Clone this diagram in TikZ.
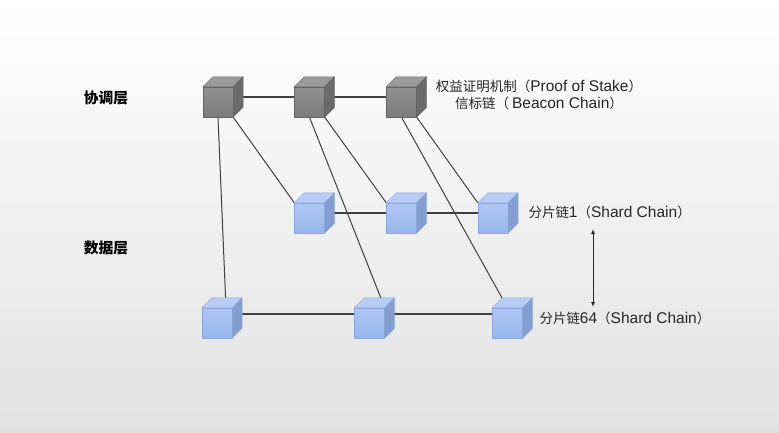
\documentclass[tikz,border=0pt]{standalone}
\usepackage{fontspec}
\setmainfont{Liberation Sans}
\newfontfamily\cjk[Scale=0.87]{Noto Sans CJK SC}
\usetikzlibrary{backgrounds,arrows.meta}

\definecolor{bgbottom}{RGB}{226,226,226}
\definecolor{linegray}{RGB}{64,64,64}
\definecolor{gfront}{RGB}{124,124,124}
\definecolor{gtop}{RGB}{154,154,154}
\definecolor{gside}{RGB}{106,106,106}
\definecolor{gedge}{RGB}{100,100,100}
\definecolor{bfront}{RGB}{152,182,238}
\definecolor{btop}{RGB}{184,205,246}
\definecolor{bside}{RGB}{132,158,210}
\definecolor{bedge}{RGB}{140,168,222}

\begin{document}
\begin{tikzpicture}[x=1pt,y=-1pt,line join=round,
	cube/.style={minimum size=30pt,inner sep=0pt,draw=#1edge,top color=#1top!70!#1front,bottom color=#1front},
	link/.style={draw=linegray,line width=1.2pt},
	layername/.style={font=\fontsize{17}{19}\selectfont\cjk\bfseries},
	chainname/.style={font=\fontsize{15.5}{17}\selectfont,text=black!85}]

	\useasboundingbox (0,0) rectangle (779,433);

	% front faces
	\draw (218,102) node [cube=g] (g1){};
	\draw (309.5,102) node [cube=g] (g2){};
	\draw (401.5,102) node [cube=g] (g3){};
	\draw (309.5,218) node [cube=b] (m1){};
	\draw (401.5,218) node [cube=b] (m2){};
	\draw (493,218) node [cube=b] (m3){};
	\draw (217,323) node [cube=b] (b1){};
	\draw (369.5,323) node [cube=b] (b2){};
	\draw (507.5,323) node [cube=b] (b3){};

	% connections, behind the cubes
	\begin{scope}[on background layer]
		\shade[top color=white,bottom color=bgbottom] (0,0) rectangle (779,433);
		\draw[link] ([yshift=5pt]g1.center) -- ([yshift=5pt]g2.center) -- ([yshift=5pt]g3.center);
		\draw[link] ([yshift=5pt]m1.center) -- ([yshift=5pt]m2.center) -- ([yshift=5pt]m3.center);
		\draw[link] ([yshift=9pt]b1.center) -- ([yshift=9pt]b2.center) -- ([yshift=9pt]b3.center);
		\draw[link,line width=1pt]
		(g1.south) -- ([xshift=9pt]b1.north)
		(g1.south east) -- (m1.north west)
		(g2.south) -- (b2.north east)
		(g2.south east) -- (m2.north west)
		(g3.south) -- (b3.north)
		(g3.south east) -- (m3.north west);
	\end{scope}

	% top and side faces
	\foreach \n/\c in {g1/g,g2/g,g3/g,m1/b,m2/b,m3/b,b1/b,b2/b,b3/b}{
		\filldraw[fill=\c top,draw=\c edge] (\n.north west) -- ++(10,-10) -- ([shift={(10,-10)}]\n.north east) -- (\n.north east) -- cycle;
		\filldraw[fill=\c side,draw=\c edge] (\n.north east) -- ++(10,-10) -- ([shift={(10,-10)}]\n.south east) -- (\n.south east) -- cycle;
	}

	% labels
	\node [layername] (coord) at (106,98) {协调层};
	\node [layername] (data) at (106,248) {数据层};
	\node [chainname,align=center] (beacon) at (539,95) {{\cjk 权益证明机制（}Proof of Stake{\cjk ）}\\{\cjk 信标链（ }Beacon Chain{\cjk  ）}};
	\node [chainname,anchor=west] (shard1) at (525,212) {{\cjk 分片链}1{\cjk （}Shard Chain{\cjk ）}};
	\node [chainname,anchor=west] (shard64) at (536,318) {{\cjk 分片链}64{\cjk （}Shard Chain{\cjk ）}};

	\coordinate (s1) at (593,229);
	\coordinate (s64) at (593,307);
	\draw[{Latex[length=5pt,width=4pt]}-{Latex[length=5pt,width=4pt]},line width=1pt,black!85] (s1) -- (s64);
\end{tikzpicture}
\end{document}
